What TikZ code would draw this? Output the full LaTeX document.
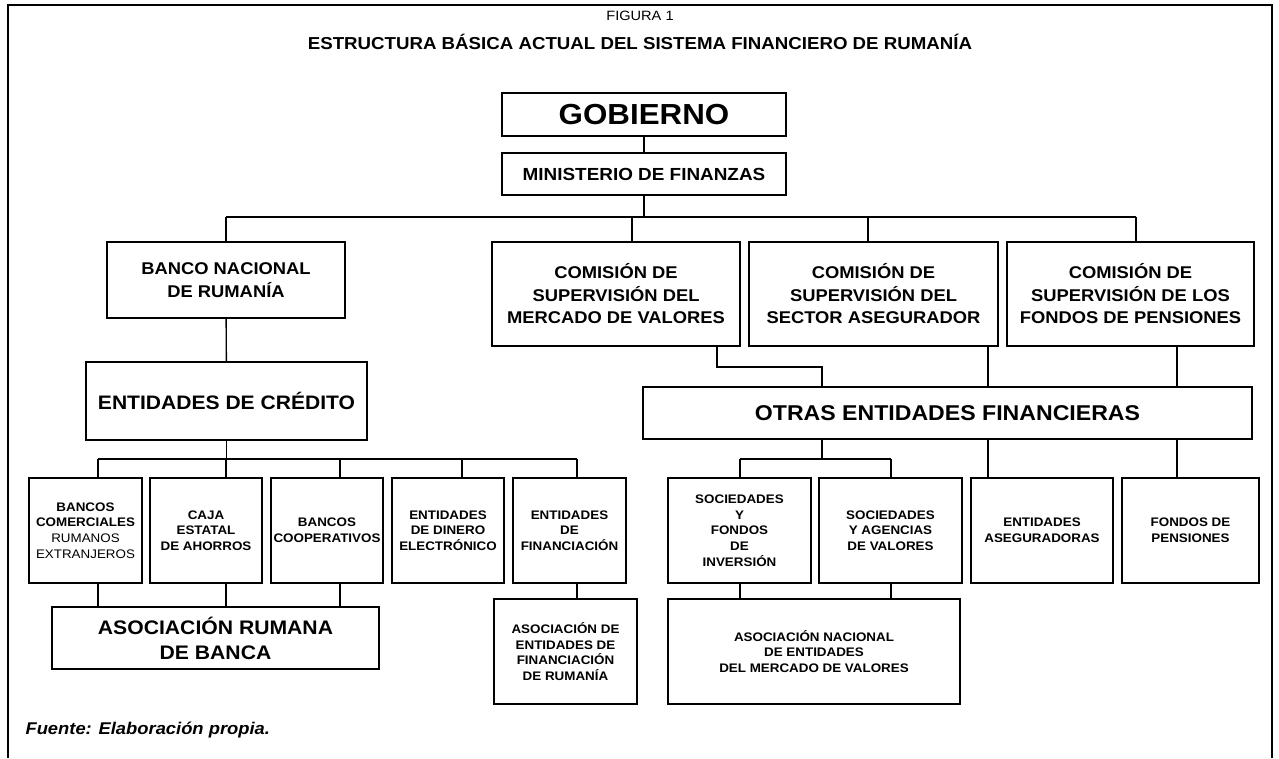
\documentclass[tikz,border=0pt]{standalone}
\usepackage{fontspec}
\setmainfont{Liberation Sans}[FakeStretch=1.08]
\usetikzlibrary{calc}

\begin{document}
\begin{tikzpicture}[x=1pt,y=-1pt,
  caja/.style={draw,line width=1.5pt,align=center,inner sep=0pt},
  linea/.style={line width=1.4pt},
  chica/.style={font=\fontsize{12.4}{15.7}\selectfont\bfseries},
  media/.style={font=\fontsize{17}{22.5}\selectfont\bfseries},
  grande/.style={font=\fontsize{21.4}{25}\selectfont\bfseries}]
  \useasboundingbox (0,0) rectangle (1279,758);
  % marco
  \draw[line width=2pt] (8,758) -- (8,5) -- (1272,5) -- (1272,758);
  \node[font=\fontsize{13.5}{16}\selectfont] (fig) at (640,16) {FIGURA 1};
  \node[font=\fontsize{17.3}{19}\selectfont\bfseries] (titulo) at (640,42)
    {ESTRUCTURA BÁSICA ACTUAL DEL SISTEMA FINANCIERO DE RUMANÍA};
  \node[anchor=base west,font=\fontsize{17}{18}\selectfont\bfseries\itshape] (fuente)
    at (22,734) {Fuente: Elaboración propia.};

  % arriba
  \node[caja,font=\fontsize{29}{32}\selectfont\bfseries,minimum width=284,minimum height=43]
    (gob) at (644,114.5) {GOBIERNO};
  \node[caja,font=\fontsize{17.5}{20}\selectfont\bfseries,minimum width=284,minimum height=42]
    (min) at (644,174) {MINISTERIO DE FINANZAS};

  % bancos y comisiones
  \node[caja,media,minimum width=238,minimum height=76] (bnr) at (226,280)
    {BANCO NACIONAL\\DE RUMANÍA};
  \node[caja,media,minimum width=248,minimum height=104] (csmv) at (616,294)
    {COMISIÓN DE\\SUPERVISIÓN DEL\\MERCADO DE VALORES};
  \node[caja,media,minimum width=249,minimum height=104] (cssa) at (873.5,294)
    {COMISIÓN DE\\SUPERVISIÓN DEL\\SECTOR ASEGURADOR};
  \node[caja,media,minimum width=247,minimum height=104] (csfp) at (1130.5,294)
    {COMISIÓN DE\\SUPERVISIÓN DE LOS\\FONDOS DE PENSIONES};

  \node[caja,font=\fontsize{19.5}{24}\selectfont\bfseries,minimum width=281,minimum height=78]
    (ecred) at (226.5,401) {ENTIDADES DE CRÉDITO};
  \node[caja,grande,minimum width=609,minimum height=52] (otras) at (947.5,413)
    {OTRAS ENTIDADES FINANCIERAS};

  % fila de abajo
  \node[caja,chica,minimum width=113,minimum height=105] (bcom) at (85.5,530.5)
    {BANCOS\\COMERCIALES\\{\mdseries RUMANOS}\\{\mdseries EXTRANJEROS}};
  \node[caja,chica,minimum width=112,minimum height=105] (cest) at (206,530.5)
    {CAJA\\ESTATAL\\DE AHORROS};
  \node[caja,chica,minimum width=112,minimum height=105] (bcoop) at (327,530.5)
    {BANCOS\\COOPERATIVOS};
  \node[caja,chica,minimum width=112,minimum height=105] (edin) at (448,530.5)
    {ENTIDADES\\DE DINERO\\ELECTRÓNICO};
  \node[caja,chica,minimum width=113,minimum height=105] (efin) at (569.5,530.5)
    {ENTIDADES\\DE\\FINANCIACIÓN};
  \node[caja,chica,minimum width=143,minimum height=105] (sfi) at (739.5,530.5)
    {SOCIEDADES\\Y\\FONDOS\\DE\\INVERSIÓN};
  \node[caja,chica,minimum width=143,minimum height=105] (sav) at (890.5,530.5)
    {SOCIEDADES\\Y AGENCIAS\\DE VALORES};
  \node[caja,chica,minimum width=142,minimum height=105] (aseg) at (1042,530.5)
    {ENTIDADES\\ASEGURADORAS};
  \node[caja,chica,minimum width=137,minimum height=105] (fpen) at (1190.5,530.5)
    {FONDOS DE\\PENSIONES};

  % asociaciones
  \node[caja,font=\fontsize{19.6}{25}\selectfont\bfseries,minimum width=327,minimum height=62]
    (arb) at (215.5,638) {ASOCIACIÓN RUMANA\\DE BANCA};
  \node[caja,chica,minimum width=143,minimum height=105] (aefr) at (565.5,651.5)
    {ASOCIACIÓN DE\\ENTIDADES DE\\FINANCIACIÓN\\DE RUMANÍA};
  \node[caja,chica,minimum width=292,minimum height=105] (anev) at (814,651.5)
    {ASOCIACIÓN NACIONAL\\DE ENTIDADES\\DEL MERCADO DE VALORES};

  % conectores de arriba
  \coordinate (dBNR) at (226,217);
  \coordinate (dCSMV) at (632,217);
  \coordinate (dCSSA) at (868,217);
  \coordinate (dCSFP) at (1136,217);
  \draw[linea] (gob) -- (min);
  \draw[linea] (min.south) -- (min.south |- dBNR);
  \draw[linea] (dBNR) -- (dCSFP);
  \foreach \n/\d in {bnr/dBNR,csmv/dCSMV,cssa/dCSSA,csfp/dCSFP}
    \draw[linea] (\d) -- (\d |- \n.north);
  \draw[linea] (bnr) -- (ecred);

  % entidades de credito
  \draw[linea] (ecred.south) -- (ecred.south |- 0,459);
  \coordinate (tbcom) at (98,459);
  \coordinate (tcest) at (226,459);
  \coordinate (tbcoop) at (340,459);
  \coordinate (tedin) at (462,459);
  \coordinate (tefin) at (577,459);
  \draw[linea] (tbcom) -- (tefin);
  \foreach \n in {bcom,cest,bcoop,edin,efin}
    \draw[linea] (t\n) -- (t\n |- \n.north);
  \foreach \n in {bcom,cest,bcoop}
    \draw[linea] (t\n |- \n.south) -- (t\n |- arb.north);
  \draw[linea] (tefin |- efin.south) -- (tefin |- aefr.north);

  % otras entidades
  \coordinate (k1) at (717,367);
  \coordinate (dO) at (822,459);
  \coordinate (tsfi) at (740,459);
  \coordinate (tsav) at (891,459);
  \coordinate (taseg) at (988,459);
  \coordinate (tfpen) at (1177,459);
  \draw[linea] (k1 |- csmv.south) -- (k1) -| (dO |- otras.north);
  \draw[linea] (taseg |- cssa.south) -- (taseg |- otras.north);
  \draw[linea] (tfpen |- csfp.south) -- (tfpen |- otras.north);
  \draw[linea] (dO |- otras.south) -- (dO);
  \draw[linea] (tsfi) -- (tsav);
  \foreach \n in {sfi,sav}{
    \draw[linea] (t\n) -- (t\n |- \n.north);
    \draw[linea] (t\n |- \n.south) -- (t\n |- anev.north);
  }
  \foreach \n in {aseg,fpen}
    \draw[linea] (t\n |- otras.south) -- (t\n |- \n.north);
\end{tikzpicture}
\end{document}
